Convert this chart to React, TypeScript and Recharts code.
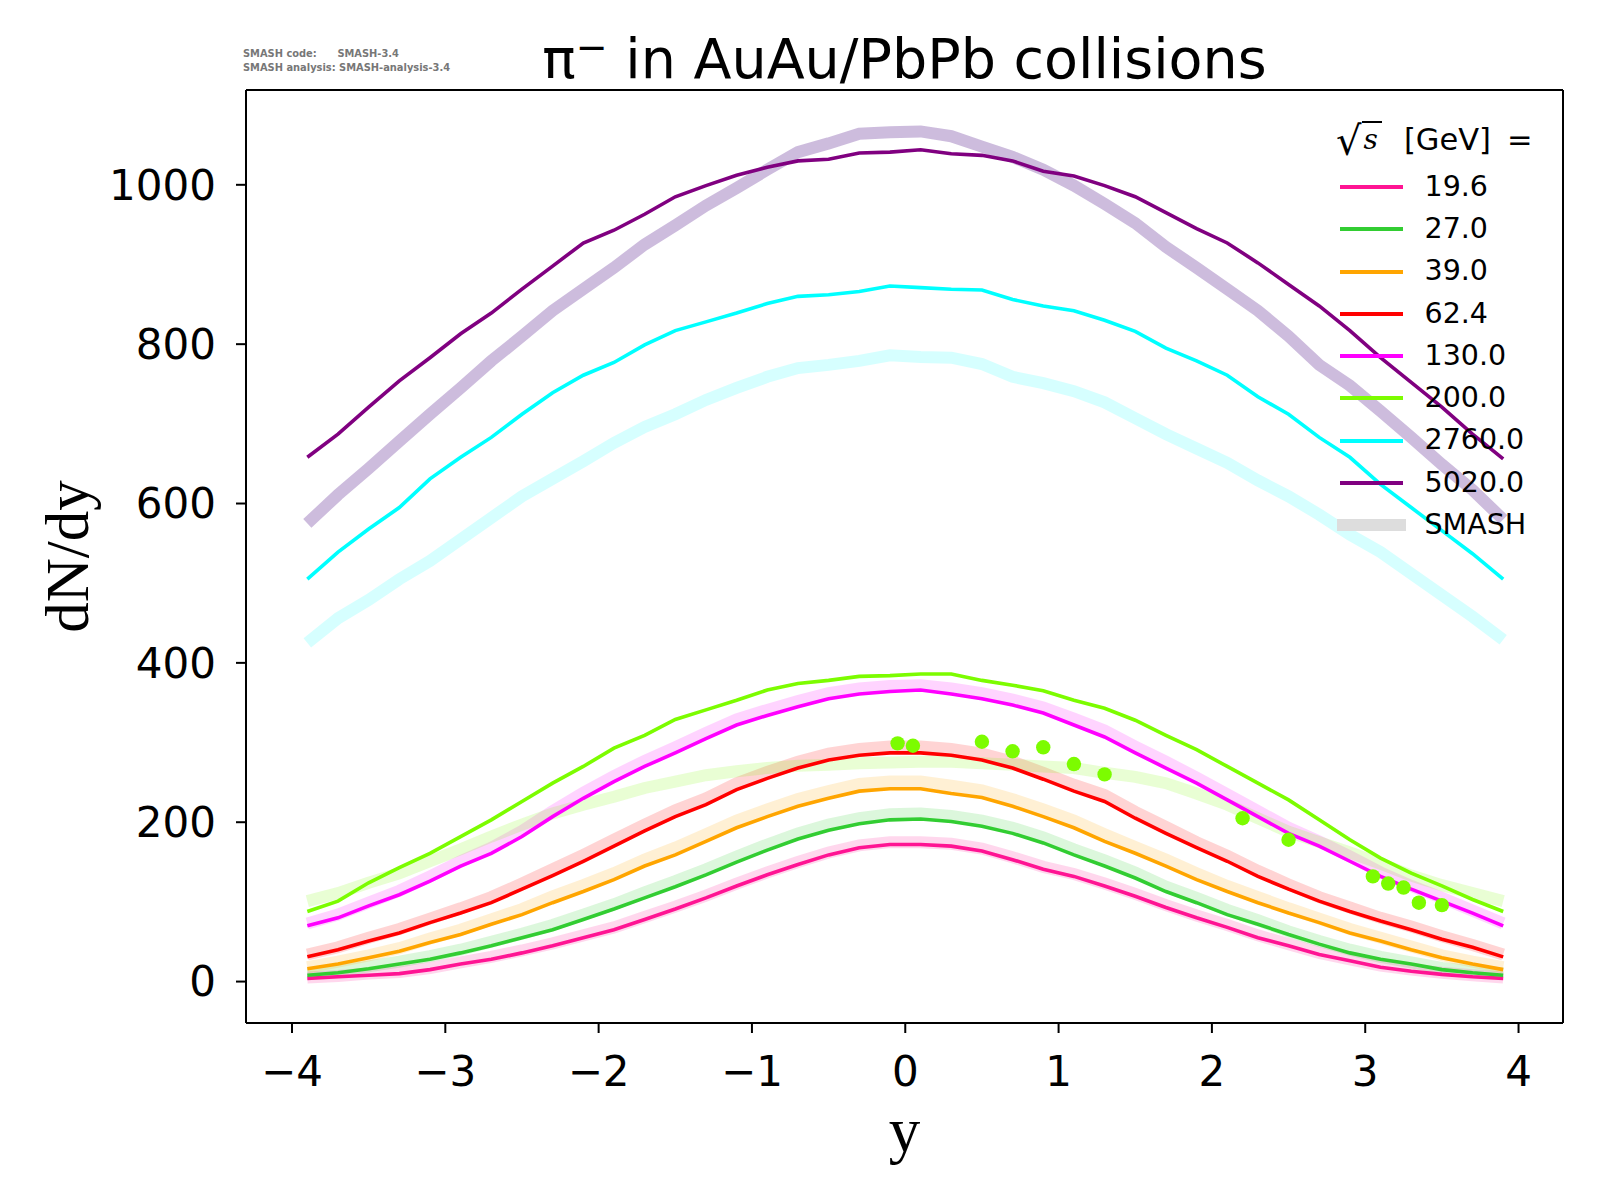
import { ComposedChart, Line, Scatter, XAxis, YAxis, Legend, ReferenceLine } from 'recharts'

// rapidity grid shared by all curves
const rapidity = [
  -3.9, -3.7, -3.5, -3.3, -3.1, -2.9, -2.7, -2.5, -2.3, -2.1,
  -1.9, -1.7, -1.5, -1.3, -1.1, -0.9, -0.7, -0.5, -0.3, -0.1,
  0.1, 0.3, 0.5, 0.7, 0.9, 1.1, 1.3, 1.5, 1.7, 1.9,
  2.1, 2.3, 2.5, 2.7, 2.9, 3.1, 3.3, 3.5, 3.7, 3.9,
]

const energyLabels = ['19.6', '27.0', '39.0', '62.4', '130.0', '200.0', '2760.0', '5020.0']
const lineColors = ['#ff1493', '#32cd32', '#ffa500', '#ff0000', '#ff00ff', '#7cfc00', '#00ffff', '#800080']
const bandColors = ['#ff1493', '#32cd32', '#ffa500', '#ff0000', '#ff00ff', '#7cfc00', '#00ffff', '#663399']
const bandOpacity = [0.17, 0.17, 0.17, 0.17, 0.17, 0.17, 0.16, 0.33]

// thin lines
const dndy196 = [4, 6, 8, 10, 15, 22, 28, 36, 45, 55, 65, 78, 91, 105, 120, 134, 147, 159, 168, 172,
  172, 170, 164, 153, 141, 132, 120, 107, 93, 80, 68, 55, 45, 34, 26, 18, 13, 9, 6, 4]
const dndy270 = [8, 11, 16, 22, 28, 36, 45, 55, 65, 78, 91, 105, 119, 134, 150, 165, 179, 190, 198, 203,
  204, 201, 195, 186, 174, 159, 145, 130, 113, 99, 84, 72, 59, 47, 36, 28, 22, 15, 11, 8]
const dndy390 = [16, 22, 30, 38, 49, 59, 72, 84, 99, 113, 128, 145, 159, 176, 193, 207, 220, 230, 239, 242,
  242, 236, 231, 220, 207, 193, 176, 161, 145, 128, 113, 99, 86, 74, 61, 51, 40, 30, 22, 15]
const dndy624 = [31, 40, 51, 61, 74, 86, 99, 116, 133, 151, 170, 189, 207, 222, 241, 255, 268, 278, 284, 287,
  287, 284, 278, 268, 254, 239, 226, 205, 186, 168, 151, 132, 116, 101, 88, 76, 65, 53, 43, 31]
const dndy1300 = [70, 80, 95, 109, 126, 145, 161, 182, 207, 230, 251, 270, 287, 305, 322, 334, 345, 355, 361, 364,
  366, 361, 355, 347, 337, 322, 307, 287, 268, 249, 228, 207, 186, 170, 151, 132, 116, 101, 86, 70]
const dndy2000 = [88, 101, 124, 143, 161, 182, 203, 226, 249, 270, 293, 309, 329, 341, 353, 366, 374, 378, 383, 384,
  386, 386, 378, 372, 365, 353, 343, 328, 309, 291, 270, 249, 228, 203, 178, 155, 136, 120, 103, 88]
const dndy27600 = [505, 539, 568, 595, 631, 658, 683, 712, 739, 761, 777, 799, 817, 828, 839, 851, 860, 862, 866, 873,
  871, 869, 868, 856, 848, 842, 830, 816, 795, 779, 761, 734, 712, 683, 658, 624, 595, 566, 537, 505]
const dndy50200 = [658, 687, 721, 754, 783, 813, 839, 869, 898, 927, 943, 963, 985, 999, 1012, 1022, 1030, 1032, 1040, 1041,
  1044, 1039, 1037, 1030, 1017, 1011, 999, 985, 965, 945, 927, 902, 875, 848, 817, 783, 752, 721, 687, 656]

// SMASH bands
const smash196 = [5, 7, 10, 12, 17, 24, 31, 39, 48, 58, 68, 81, 94, 108, 123, 137, 150, 162, 171, 175,
  175, 173, 167, 156, 144, 135, 123, 110, 96, 83, 71, 58, 47, 36, 28, 20, 15, 11, 8, 5]
const smash270 = [10, 13, 19, 25, 32, 40, 50, 60, 71, 84, 97, 112, 126, 141, 157, 172, 186, 197, 205, 210,
  211, 208, 202, 193, 181, 166, 152, 137, 119, 105, 90, 77, 63, 51, 40, 31, 24, 17, 13, 10]
const smash390 = [18, 25, 33, 42, 54, 65, 78, 91, 107, 121, 136, 153, 168, 185, 202, 216, 229, 239, 248, 251,
  251, 246, 240, 229, 216, 202, 185, 169, 153, 136, 120, 106, 92, 79, 66, 55, 44, 33, 25, 18]
const smash624 = [34, 43, 55, 66, 79, 92, 106, 123, 141, 159, 178, 197, 215, 230, 249, 263, 276, 286, 292, 295,
  295, 292, 286, 276, 262, 247, 234, 213, 194, 175, 158, 139, 122, 106, 93, 80, 69, 57, 46, 34]
const smash1300 = [73, 84, 99, 114, 132, 151, 168, 189, 214, 237, 258, 277, 294, 312, 329, 341, 352, 362, 368, 371,
  372, 368, 362, 354, 344, 330, 315, 295, 276, 256, 235, 214, 193, 176, 157, 137, 120, 105, 89, 73]
const smash2000 = [101, 111, 124, 136, 151, 166, 182, 197, 211, 222, 232, 243, 251, 259, 264, 268, 271, 272, 274, 275,
  276, 276, 274, 272, 270, 268, 262, 257, 249, 236, 222, 205, 188, 175, 162, 148, 133, 121, 111, 101]
const smash27600 = [425, 456, 479, 505, 528, 555, 582, 609, 631, 653, 676, 696, 712, 730, 745, 759, 770, 774, 779, 786,
  784, 783, 775, 759, 751, 741, 727, 707, 687, 669, 651, 629, 609, 586, 561, 539, 512, 485, 458, 429]
const smash50200 = [575, 611, 644, 678, 712, 745, 779, 810, 842, 869, 896, 925, 949, 974, 996, 1019, 1041, 1052, 1064, 1066,
  1067, 1061, 1048, 1035, 1019, 999, 976, 952, 922, 896, 869, 842, 810, 774, 748, 716, 683, 649, 617, 580]

// measured points at 200 GeV
const brahmsRapidity = [-0.05, 0.05, 0.5, 0.7, 0.9, 1.1, 1.3, 2.2, 2.5, 3.05, 3.15, 3.25, 3.35, 3.5]
const brahmsDndy = [299, 296, 301, 289, 294, 273, 260, 205, 178, 132, 123, 118, 99, 96]

const xTicks = [-4, -3, -2, -1, 0, 1, 2, 3, 4]
const yTicks = [0, 200, 400, 600, 800, 1000]
const xDomain = [-4.3, 4.29]
const yDomain = [-52, 1119]

const thinSeries = [dndy196, dndy270, dndy390, dndy624, dndy1300, dndy2000, dndy27600, dndy50200]
const smashSeries = [smash196, smash270, smash390, smash624, smash1300, smash2000, smash27600, smash50200]

const rows = rapidity.map((rap, i) => {
  const row: Record<string, number> = { rap }
  thinSeries.forEach((s, k) => { row[`e${k}`] = s[i] })
  smashSeries.forEach((s, k) => { row[`s${k}`] = s[i] })
  return row
})

const brahmsRows = brahmsRapidity.map((rap, i) => ({ rap, dndy: brahmsDndy[i] }))

const fmtTick = (v: number) => String(v).replace('-', '\u2212')

function EnergyLegend() {
  const rowH = 42.3
  return (
    <div style={{ fontFamily: 'DejaVu Sans', fontSize: 28.5, color: '#000', lineHeight: 1 }}>
      <div style={{ height: rowH, display: 'flex', alignItems: 'center', position: 'relative', top: -4 }}>
        <span style={{ fontFamily: 'DejaVu Serif', fontSize: 40, marginLeft: 4 }}>√</span>
        <span style={{
          fontFamily: 'DejaVu Serif', fontStyle: 'italic', fontSize: 28, borderTop: '2px solid #000',
          paddingTop: 3, marginTop: -6, paddingLeft: 2, paddingRight: 4,
        }}>s</span>
        <span style={{ marginLeft: 22, fontSize: 30.5 }}>[GeV]</span>
        <span style={{ marginLeft: 16, fontSize: 30.5 }}>=</span>
      </div>
      {energyLabels.map((lab, i) => (
        <div key={lab} style={{ height: rowH, display: 'flex', alignItems: 'center' }}>
          <div style={{ width: 63, height: 4, background: lineColors[i], marginLeft: 8 }} />
          <span style={{ marginLeft: 21.5 }}>{lab}</span>
        </div>
      ))}
      <div style={{ height: rowH, display: 'flex', alignItems: 'center' }}>
        <div style={{ width: 69, height: 12, background: '#dddddd', marginLeft: 5 }} />
        <span style={{ marginLeft: 18.5 }}>SMASH</span>
      </div>
    </div>
  )
}

function YLabel({ viewBox }: any) {
  const cy = viewBox.y + viewBox.height / 2
  return (
    <text x={88} y={cy} transform={`rotate(-90, 88, ${cy})`} textAnchor="middle"
      fontFamily="Liberation Serif" fontSize={61} fill="#000">
      dN/dy
    </text>
  )
}

function XLabel({ viewBox }: any) {
  const cx = viewBox.x + viewBox.width / 2
  return (
    <text x={cx} y={1151} textAnchor="middle" fontFamily="Liberation Serif" fontSize={63} fill="#000">
      y
    </text>
  )
}

export default function App() {
  const tickStyle = { fontSize: 42, fill: '#000', fontFamily: 'DejaVu Sans' }
  const frame = { stroke: '#000', strokeWidth: 2 }
  return (
    <div style={{ position: 'absolute', left: 0, top: 0, width: 1600, height: 1200, background: '#fff' }}>
      <div style={{
        position: 'absolute', left: 243, top: 47, fontFamily: 'DejaVu Sans', fontSize: 9.9,
        fontWeight: 'bold', color: '#777', whiteSpace: 'pre', lineHeight: '14px',
      }}>
        {'SMASH code:      SMASH-3.4\nSMASH analysis: SMASH-analysis-3.4'}
      </div>
      <div style={{
        position: 'absolute', left: 0, width: 1809, top: 31, textAlign: 'center',
        fontFamily: 'DejaVu Sans', fontSize: 55.5, color: '#000', lineHeight: 1, whiteSpace: 'nowrap',
      }}>
        π<sup style={{ fontSize: 38, verticalAlign: 'top', position: 'relative', top: -3 }}>−</sup> in AuAu/PbPb collisions
      </div>
      <ComposedChart width={1600} height={1200} data={rows}
        margin={{ top: 90, right: 37, bottom: 0, left: 0 }} style={{ position: 'absolute', left: 0, top: 0 }}>
        <XAxis dataKey="rap" type="number" domain={xDomain} ticks={xTicks} allowDataOverflow
          tickFormatter={fmtTick} tick={tickStyle} tickSize={10} tickMargin={23} height={177}
          axisLine={frame} tickLine={frame} label={<XLabel />} />
        <YAxis type="number" domain={yDomain} ticks={yTicks} allowDataOverflow
          tick={tickStyle} tickSize={10} tickMargin={20} width={246}
          axisLine={frame} tickLine={frame} label={<YLabel />} />
        <ReferenceLine y={yDomain[1]} stroke="#000" strokeWidth={2} ifOverflow="visible" />
        <ReferenceLine x={xDomain[1]} stroke="#000" strokeWidth={2} ifOverflow="visible" />
        <Legend layout="vertical" align="center" verticalAlign="middle" content={() => <EnergyLegend />}
          wrapperStyle={{ position: 'absolute', left: 1332, top: 123.5, width: 260, bottom: 'auto' }} />
        {smashSeries.map((_, k) => (
          <Line key={`s${k}`} dataKey={`s${k}`} type="linear" stroke={bandColors[k]} strokeOpacity={bandOpacity[k]}
            strokeWidth={12} dot={false} activeDot={false} isAnimationActive={false} legendType="none" />
        ))}
        {thinSeries.map((_, k) => (
          <Line key={`e${k}`} dataKey={`e${k}`} type="linear" stroke={lineColors[k]}
            strokeWidth={3.6} dot={false} activeDot={false} isAnimationActive={false} />
        ))}
        <Scatter data={brahmsRows} dataKey="dndy" fill="#7cfc00" isAnimationActive={false}
          shape={(p: any) => <circle cx={p.cx} cy={p.cy} r={7.2} fill="#7cfc00" />} />
      </ComposedChart>
    </div>
  )
}
